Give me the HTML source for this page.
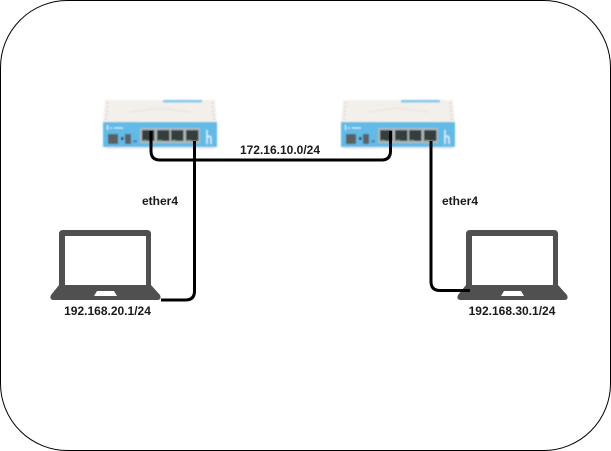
<!DOCTYPE html>
<html>
<head>
<meta charset="utf-8">
<style>
html,body{margin:0;padding:0;background:#fff;width:611px;height:451px;overflow:hidden}
svg{display:block}
text{font-family:"Liberation Sans",sans-serif;font-size:12px;font-weight:bold;fill:#1a1a1a}
</style>
</head>
<body>
<svg width="611" height="451" viewBox="0 0 611 451" xmlns="http://www.w3.org/2000/svg">
<defs>
<filter id="b" x="-5%" y="-5%" width="110%" height="110%"><feGaussianBlur stdDeviation="0.85"/></filter>
<g id="router">
<g filter="url(#b)">
<path d="M105 100H215L217 123H103Z" fill="#f3f0ec"/>
<rect x="163" y="100" width="39" height="2.5" fill="#7cc8ee"/>
<path d="M108 102l-2 18M212 102l2 18" stroke="#e4d8d4" stroke-width="2" stroke-dasharray="2 2" fill="none"/>
<path d="M130 112L160 108L190 112" stroke="#ebe8e4" stroke-width="2" fill="none"/>
<rect x="103" y="122" width="114" height="25" fill="#62bae7"/>
<rect x="105" y="147" width="110" height="2" fill="#ececec"/>
<rect x="108" y="134" width="10" height="10" fill="#5a5f61"/>
<rect x="121" y="137" width="2.5" height="3" fill="#333"/>
<rect x="125" y="134" width="6" height="10" fill="#5c6062"/>
<rect x="133" y="140" width="4" height="2.5" fill="#4f8aa8"/>
<rect x="140" y="128" width="60" height="15" fill="#b4babc"/>
<rect x="142" y="130" width="12.5" height="11" fill="#363c3d"/>
<rect x="157" y="130" width="12.5" height="11" fill="#363c3d"/>
<rect x="171" y="130" width="12.5" height="11" fill="#363c3d"/>
<rect x="186" y="130" width="12.5" height="11" fill="#363c3d"/>
<rect x="143" y="140" width="4" height="1.5" fill="#6faa78"/>
<rect x="158" y="140" width="4" height="1.5" fill="#6faa78"/>
<rect x="172" y="140" width="4" height="1.5" fill="#6faa78"/>
<rect x="187" y="140" width="4" height="1.5" fill="#6faa78"/>
<path d="M207 130v14M207 137q4-2 4 2v5" stroke="#eaf6fc" stroke-width="1.3" fill="none"/>
<path d="M107.5 125v5M110 128h2M114 128h9" stroke="#d8eefa" stroke-width="1.3" fill="none"/>
</g>
</g>
<g id="laptop">
<path d="M63 230H147Q151 230 151 234V285H59V234Q59 230 63 230Z" fill="#505050"/>
<rect x="65" y="236" width="81" height="49" fill="#fff"/>
<path d="M59 285H151L160 295Q162 300 157 300H54Q49 300 51 295Z" fill="#505050"/>
<path d="M97 291H114L117 296H94Z" fill="#fff"/>
</g>
</defs>
<rect x="0.5" y="0.5" width="610" height="450" rx="67" ry="67" fill="#fff" stroke="#000" stroke-width="1"/>
<use href="#router"/>
<use href="#router" x="238"/>
<use href="#laptop"/>
<use href="#laptop" x="407"/>
<path d="M151 131V151Q151 160 160 160H381.5Q390.5 160 390.5 151V131" fill="none" stroke="#000" stroke-width="3"/>
<path d="M194.5 141V291Q194.5 300 185.500 300H161" fill="none" stroke="#000" stroke-width="3"/>
<path d="M431 141V281.500Q431 290.500 440 290.500H470" fill="none" stroke="#000" stroke-width="3"/>
<text x="280" y="154" text-anchor="middle">172.16.10.0/24</text>
<text x="160" y="205" text-anchor="middle">ether4</text>
<text x="460" y="205" text-anchor="middle">ether4</text>
<text x="107.500" y="315" text-anchor="middle">192.168.20.1/24</text>
<text x="512" y="315" text-anchor="middle">192.168.30.1/24</text>
</svg>
</body>
</html>
